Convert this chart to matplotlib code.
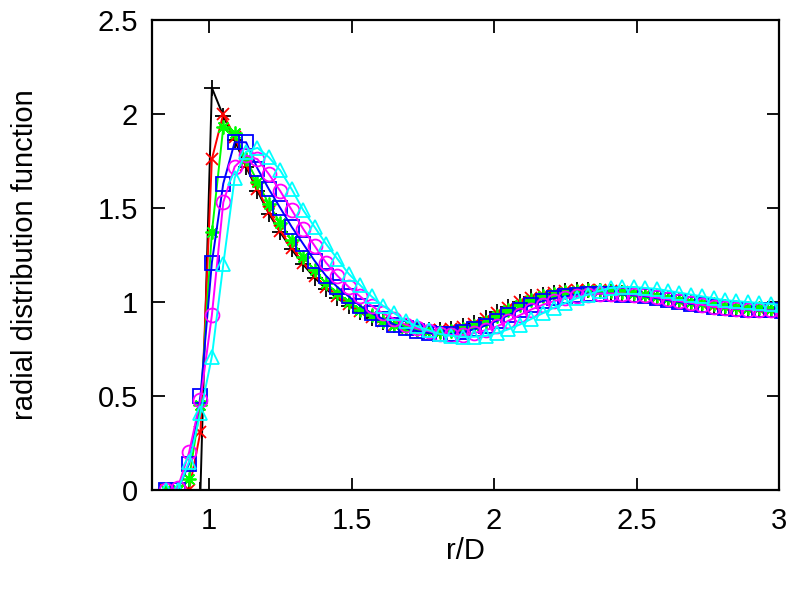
import numpy as np
import matplotlib
matplotlib.use("Agg")
import matplotlib.pyplot as plt

plt.rcParams['font.family'] = ['Liberation Sans', 'DejaVu Sans']

r = [0.85, 0.89, 0.93, 0.97, 1.01, 1.05, 1.09, 1.13, 1.17, 1.21, 1.25, 1.29, 1.33, 1.37,
     1.41, 1.45, 1.49, 1.53, 1.57, 1.61, 1.65, 1.69, 1.73, 1.77, 1.81, 1.85, 1.89, 1.93,
     1.97, 2.01, 2.05, 2.09, 2.13, 2.17, 2.21, 2.25, 2.29, 2.33, 2.37, 2.41, 2.45, 2.49,
     2.53, 2.57, 2.61, 2.65, 2.69, 2.73, 2.77, 2.81, 2.85, 2.89, 2.93, 2.97, 3.01]

g_black = [0, 0, 0, 0, 2.14, 1.99, 1.86, 1.72, 1.59, 1.47, 1.37, 1.28, 1.20, 1.13,
           1.07, 1.02, 0.98, 0.945, 0.915, 0.895, 0.88, 0.865, 0.855, 0.85, 0.85, 0.855, 0.87, 0.89,
           0.915, 0.945, 0.975, 1.0, 1.025, 1.04, 1.05, 1.06, 1.065, 1.065, 1.06, 1.055, 1.05, 1.045,
           1.035, 1.025, 1.015, 1.005, 0.995, 0.99, 0.98, 0.975, 0.97, 0.965, 0.96, 0.96, 0.955]

g_red = [0, 0, 0.0, 0.31, 1.76, 2.0, 1.88, 1.73, 1.60, 1.48, 1.38, 1.29, 1.21, 1.14,
         1.08, 1.03, 0.99, 0.95, 0.92, 0.90, 0.88, 0.865, 0.855, 0.85, 0.85, 0.855, 0.865, 0.885,
         0.91, 0.94, 0.97, 1.0, 1.02, 1.04, 1.05, 1.06, 1.065, 1.065, 1.065, 1.06, 1.055, 1.045,
         1.035, 1.025, 1.015, 1.005, 0.995, 0.99, 0.98, 0.975, 0.97, 0.965, 0.965, 0.96, 0.96]

g_green = [0, 0, 0.06, 0.45, 1.37, 1.93, 1.90, 1.76, 1.64, 1.52, 1.42, 1.33, 1.24, 1.17,
           1.10, 1.05, 1.00, 0.96, 0.93, 0.90, 0.88, 0.86, 0.85, 0.845, 0.84, 0.845, 0.855, 0.87,
           0.895, 0.925, 0.955, 0.985, 1.01, 1.03, 1.045, 1.055, 1.06, 1.065, 1.065, 1.06, 1.055, 1.05,
           1.04, 1.03, 1.02, 1.01, 1.0, 0.995, 0.99, 0.98, 0.975, 0.97, 0.97, 0.965, 0.965]

g_blue = [0, 0, 0.14, 0.50, 1.21, 1.63, 1.85, 1.85, 1.71, 1.60, 1.50, 1.40, 1.31, 1.22,
          1.14, 1.08, 1.03, 0.98, 0.94, 0.91, 0.88, 0.86, 0.845, 0.835, 0.83, 0.83, 0.84, 0.855,
          0.875, 0.90, 0.93, 0.96, 0.985, 1.005, 1.02, 1.03, 1.04, 1.045, 1.045, 1.045, 1.04, 1.035,
          1.03, 1.02, 1.01, 1.0, 0.99, 0.985, 0.975, 0.97, 0.965, 0.96, 0.955, 0.955, 0.95]

g_magenta = [0, 0.01, 0.20, 0.48, 0.93, 1.53, 1.72, 1.78, 1.76, 1.68, 1.59, 1.49, 1.39, 1.30,
             1.21, 1.14, 1.08, 1.03, 0.98, 0.94, 0.91, 0.88, 0.86, 0.845, 0.83, 0.825, 0.825, 0.835,
             0.85, 0.87, 0.90, 0.93, 0.96, 0.985, 1.005, 1.02, 1.03, 1.04, 1.045, 1.045, 1.045, 1.04,
             1.035, 1.025, 1.015, 1.005, 0.995, 0.985, 0.975, 0.97, 0.965, 0.96, 0.955, 0.955, 0.95]

g_cyan = [0, 0.0, 0.15, 0.41, 0.71, 1.20, 1.66, 1.80, 1.82, 1.77, 1.70, 1.60, 1.49, 1.40,
          1.31, 1.23, 1.15, 1.09, 1.03, 0.98, 0.94, 0.90, 0.87, 0.85, 0.83, 0.82, 0.815, 0.815,
          0.82, 0.835, 0.855, 0.88, 0.91, 0.94, 0.97, 0.995, 1.02, 1.04, 1.06, 1.075, 1.08, 1.08,
          1.075, 1.07, 1.06, 1.05, 1.04, 1.03, 1.02, 1.01, 1.005, 1.0, 0.995, 0.99, 0.985]

x_ticks = [1, 1.5, 2, 2.5, 3]
x_ticklabels = ["1", "1.5", "2", "2.5", "3"]
y_ticks = [0, 0.5, 1, 1.5, 2, 2.5]
y_ticklabels = ["0", "0.5", "1", "1.5", "2", "2.5"]

fig = plt.figure(figsize=(8.0, 5.89), dpi=100)
ax = fig.add_axes([0.19, 0.168, 0.784, 0.798])

series = [
    (g_black, '#000000', '+', 12),
    (g_red, '#ff0000', 'x', 9),
    (g_green, '#00ff00', (8, 2, 0), 10),
    (g_blue, '#0000ff', 's', 10),
    (g_magenta, '#ff00ff', 'o', 10),
    (g_cyan, '#00ffff', '^', 10),
]
for vals, col, mk, ms in series:
    ax.plot(r, vals, color=col, lw=1.4, marker=mk, markersize=ms,
            markerfacecolor='none', markeredgecolor=col, markeredgewidth=1.3,
            clip_on=True)

ax.set_xlim(0.8, 3.0)
ax.set_ylim(0, 2.5)
ax.set_xticks(x_ticks)
ax.set_xticklabels(x_ticklabels)
ax.set_yticks(y_ticks)
ax.set_yticklabels(y_ticklabels)
ax.tick_params(direction='in', length=9, width=1.3, top=True, right=True,
               labelsize=21)
ax.tick_params(axis='x', pad=12)
ax.tick_params(axis='y', pad=10)
for s in ax.spines.values():
    s.set_linewidth(1.6)
ax.set_xlabel("r/D", fontsize=21)
ax.set_ylabel("radial distribution function", fontsize=21)
ax.xaxis.set_label_coords(0.5, -0.10)
ax.yaxis.set_label_coords(-0.18, 0.5)

fig.savefig("out.png", dpi=100)
